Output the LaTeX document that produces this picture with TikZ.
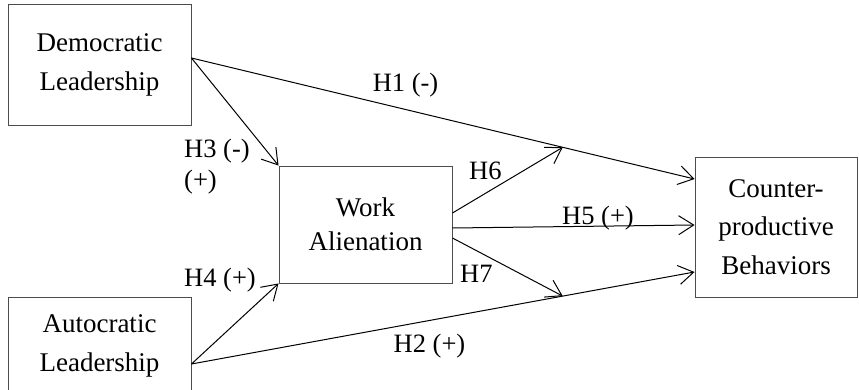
\documentclass[tikz,border=0pt]{standalone}
\usepackage{fontspec}
\setmainfont{Liberation Serif}
\usetikzlibrary{arrows.meta,calc}
\begin{document}
\begin{tikzpicture}[x=1pt,y=-1pt,
  box/.style={draw=black!70, line width=0.9pt, rectangle, align=center, inner sep=0pt},
  boxfont/.style={font=\fontsize{27}{39}\selectfont},
  lbl/.style={font=\fontsize{26.5}{30}\selectfont, inner sep=0pt, anchor=base},
  arr/.style={draw=black, line width=1pt, -{Straight Barb[length=15pt,width=19pt,line width=1pt]}}]
\useasboundingbox (0,0) rectangle (859,390);
\clip (0,0) rectangle (859,390);
% boxes
\node[box, boxfont, minimum width=183pt, minimum height=121pt] (dem) at (99.5,64.5) {Democratic\\Leadership};
\node[box, boxfont, minimum width=183pt, minimum height=98pt] (auto) at (99.5,346) {Autocratic\\Leadership};
\node[box, font=\fontsize{27}{34}\selectfont, minimum width=173pt, minimum height=117pt] (wa) at (365.5,224.5) {Work\\Alienation};
\node[box, font=\fontsize{27}{38.5}\selectfont, minimum width=162pt, minimum height=140pt] (cb) at (776,227) {Counter-\\productive\\Behaviors};
% connector end points
\coordinate (d1) at ([yshift=6.5pt]dem.east);
\coordinate (a1) at ([yshift=-18pt]auto.east);
\coordinate (c1) at ([yshift=48pt]cb.west);
\coordinate (c2) at ([yshift=2pt]cb.west);
\coordinate (c3) at ([yshift=-45pt]cb.west);
\coordinate (w1) at ([yshift=11.5pt]wa.east);
\coordinate (w2) at ([yshift=-3.5pt]wa.east);
\coordinate (w3) at ([yshift=-13.5pt]wa.east);
\coordinate (m1) at ($(d1)!0.738!(c1)$);
\coordinate (m2) at ($(a1)!0.738!(c3)$);
% connectors
\draw[arr] (d1) -- (c1);
\draw[arr] (d1) -- (wa.north west);
\draw[arr] (a1) -- (wa.south west);
\draw[arr] (a1) -- (c3);
\draw[arr] (w1) -- (m1);
\draw[arr] (w2) -- (c2);
\draw[arr] (w3) -- (m2);
% labels
\node[lbl] (l1) at (405.5,92) {H1 (-)};
\node[lbl] (l2) at (429.5,352) {H2 (+)};
\node[lbl, anchor=base west] (l3) at (184,158) {H3 (-)};
\node[lbl, anchor=base west] (l3b) at (184,189) {(+)};
\node[lbl, anchor=base west] (l4) at (184,286) {H4 (+)};
\node[lbl, anchor=base west] (l6) at (469,180) {H6};
\node[lbl] (l5) at (598,224) {H5 (+)};
\node[lbl, anchor=base west] (l7) at (460,282) {H7};
\end{tikzpicture}
\end{document}
